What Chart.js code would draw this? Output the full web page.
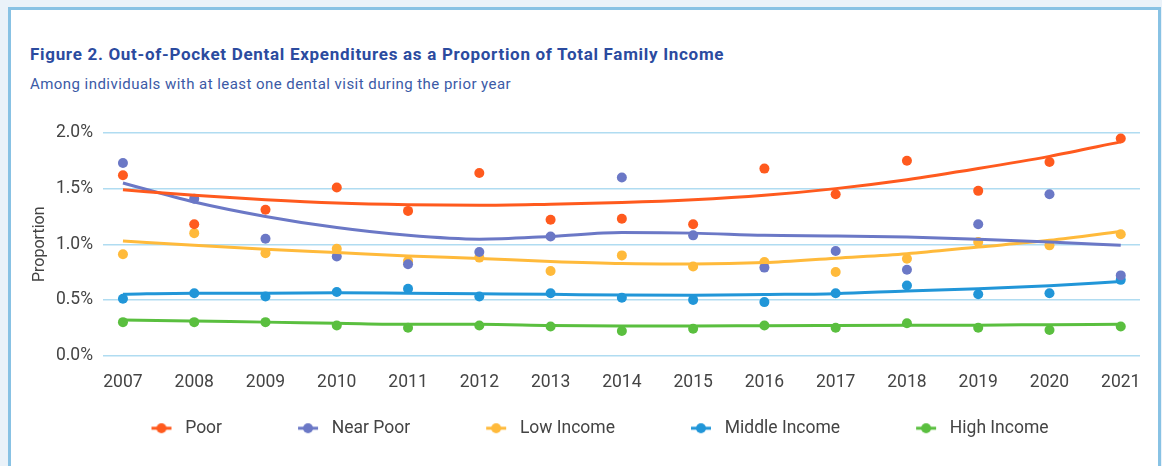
<!DOCTYPE html>
<html>
<head>
<meta charset="utf-8">
<script src="https://cdn.jsdelivr.net/npm/chart.js@4/dist/chart.umd.min.js"></script>
<style>
  html, body { margin: 0; padding: 0; }
  body { width: 1162px; height: 466px; background: #eaf2f9; position: relative; overflow: hidden; font-family: Roboto, "Open Sans", sans-serif; }
  #marco { position: absolute; left: 8px; top: 7px; width: 1147px; height: 480px; background: #fff; border: 3px solid #88c2e4; border-bottom: none; }
  #titulo { position: absolute; left: 30px; top: 44px; font-size: 17px; letter-spacing: 0.7px; font-weight: bold; color: #2b4b9f; white-space: nowrap; }
  #subtitulo { position: absolute; left: 30px; top: 75px; font-size: 15px; letter-spacing: 0.45px; color: #3b5aa6; white-space: nowrap; }
  #grafico { position: absolute; left: 0; top: 0; }
</style>
</head>
<body>
<div id="marco"></div>
<div id="titulo">Figure 2. Out-of-Pocket Dental Expenditures as a Proportion of Total Family Income</div>
<div id="subtitulo">Among individuals with at least one dental visit during the prior year</div>
<canvas id="grafico" width="1162" height="466"></canvas>
<script>
// datos (porcentaje)
const years = [2007, 2008, 2009, 2010, 2011, 2012, 2013, 2014, 2015, 2016, 2017, 2018, 2019, 2020, 2021];
const seriesNames = ["Poor", "Near Poor", "Low Income", "Middle Income", "High Income"];
const yTicks = [0, 0.5, 1.0, 1.5, 2.0];

const poor         = [1.62, 1.18, 1.31, 1.51, 1.30, 1.64, 1.22, 1.23, 1.18, 1.68, 1.45, 1.75, 1.48, 1.74, 1.95];
const nearPoor     = [1.73, 1.41, 1.05, 0.89, 0.82, 0.93, 1.07, 1.60, 1.08, 0.79, 0.94, 0.77, 1.18, 1.45, 0.72];
const lowIncome    = [0.91, 1.10, 0.92, 0.96, 0.85, 0.88, 0.76, 0.90, 0.80, 0.84, 0.75, 0.87, 1.02, 0.99, 1.09];
const middleIncome = [0.51, 0.56, 0.53, 0.57, 0.60, 0.53, 0.56, 0.52, 0.50, 0.48, 0.56, 0.63, 0.55, 0.56, 0.68];
const highIncome   = [0.30, 0.30, 0.30, 0.27, 0.25, 0.27, 0.26, 0.22, 0.24, 0.27, 0.25, 0.29, 0.25, 0.23, 0.26];

// lineas de tendencia (suavizadas)
const poorTrend         = [1.49, 1.44, 1.40, 1.37, 1.355, 1.35, 1.36, 1.375, 1.40, 1.44, 1.50, 1.58, 1.68, 1.79, 1.92];
const nearPoorTrend     = [1.55, 1.38, 1.25, 1.15, 1.08, 1.045, 1.07, 1.105, 1.10, 1.08, 1.075, 1.065, 1.045, 1.02, 0.99];
const lowIncomeTrend    = [1.03, 0.99, 0.955, 0.925, 0.895, 0.872, 0.845, 0.826, 0.822, 0.835, 0.875, 0.915, 0.975, 1.035, 1.115];
const middleIncomeTrend = [0.55, 0.56, 0.56, 0.565, 0.56, 0.555, 0.55, 0.543, 0.542, 0.548, 0.556, 0.58, 0.60, 0.628, 0.665];
const highIncomeTrend   = [0.32, 0.31, 0.30, 0.29, 0.28, 0.28, 0.27, 0.265, 0.265, 0.268, 0.27, 0.272, 0.273, 0.277, 0.28];

const colores = ["#ff5a1e", "#6b78c6", "#ffba3b", "#2196d8", "#5abf3f"];
const puntos = [poor, nearPoor, lowIncome, middleIncome, highIncome];
const tendencias = [poorTrend, nearPoorTrend, lowIncomeTrend, middleIncomeTrend, highIncomeTrend];

function aXY(vals) {
  return vals.map((v, i) => ({ x: years[i], y: v }));
}

// marcador de la leyenda: linea con punto, pegado a la derecha
const ANCHO_MARCA = 75;
function marcaLeyenda(color) {
  const c = document.createElement('canvas');
  c.width = ANCHO_MARCA; c.height = 14;
  const ctx = c.getContext('2d');
  const cx = ANCHO_MARCA - 15;
  ctx.strokeStyle = color;
  ctx.lineWidth = 3;
  ctx.beginPath(); ctx.moveTo(cx - 10, 7); ctx.lineTo(cx + 10, 7); ctx.stroke();
  ctx.fillStyle = color;
  ctx.beginPath(); ctx.arc(cx, 7, 5, 0, Math.PI * 2); ctx.fill();
  return c;
}

// corre la leyenda un poco a la izquierda
const moverLeyenda = {
  id: 'moverLeyenda',
  afterLayout(chart) {
    chart.legend.left -= 10;
    chart.legend.right -= 10;
  }
};

const datasets = [];
for (let i = 0; i < seriesNames.length; i++) {
  datasets.push({
    label: seriesNames[i] + " trend",
    data: aXY(tendencias[i]),
    borderColor: colores[i],
    borderWidth: 3,
    pointRadius: 0,
    fill: false,
    cubicInterpolationMode: 'monotone',
    showLine: true
  });
}
for (let i = 0; i < seriesNames.length; i++) {
  datasets.push({
    label: seriesNames[i],
    data: aXY(puntos[i]),
    backgroundColor: colores[i],
    borderColor: colores[i],
    pointRadius: 5,
    pointBorderWidth: 0,
    showLine: false
  });
}

const ctx = document.getElementById('grafico');
new Chart(ctx, {
  type: 'scatter',
  data: { datasets: datasets },
  plugins: [moverLeyenda],
  options: {
    responsive: false,
    animation: false,
    layout: { padding: { left: 30, right: 22, top: 133, bottom: 19 } },
    plugins: {
      tooltip: { enabled: false },
      legend: {
        position: 'bottom',
        labels: {
          usePointStyle: true,
          pointStyleWidth: ANCHO_MARCA,
          padding: 26,
          color: '#444',
          font: { family: 'Roboto', size: 17.5 },
          generateLabels: function (chart) {
            return seriesNames.map((n, i) => ({
              text: n,
              fillStyle: colores[i],
              strokeStyle: colores[i],
              fontColor: '#444',
              pointStyle: marcaLeyenda(colores[i]),
              lineWidth: 0,
              hidden: false,
              datasetIndex: i
            }));
          }
        }
      }
    },
    scales: {
      x: {
        type: 'linear',
        min: 2006.72,
        max: 2021.27,
        afterBuildTicks: function (axis) { axis.ticks = years.map(v => ({ value: v })); },
        afterFit: function (axis) { axis.height = 38; },
        grid: { display: false },
        border: { display: false },
        ticks: {
          padding: 9,
          color: '#444',
          font: { family: 'Roboto', size: 17.5 },
          maxRotation: 0,
          autoSkip: false,
          callback: v => String(v)
        }
      },
      y: {
        min: 0,
        max: 2,
        afterBuildTicks: function (axis) { axis.ticks = yTicks.map(v => ({ value: v })); },
        afterFit: function (axis) { axis.width = 73; },
        grid: { color: '#b0dcf1', lineWidth: 1.5, drawTicks: false },
        border: { display: false },
        ticks: {
          padding: 10,
          color: '#444',
          font: { family: 'Roboto', size: 17.5 },
          callback: v => v.toFixed(1) + '%'
        },
        title: {
          display: true,
          text: 'Proportion',
          color: '#444',
          font: { family: 'Roboto', size: 16 },
          padding: 0
        }
      }
    }
  }
});
</script>
</body>
</html>
